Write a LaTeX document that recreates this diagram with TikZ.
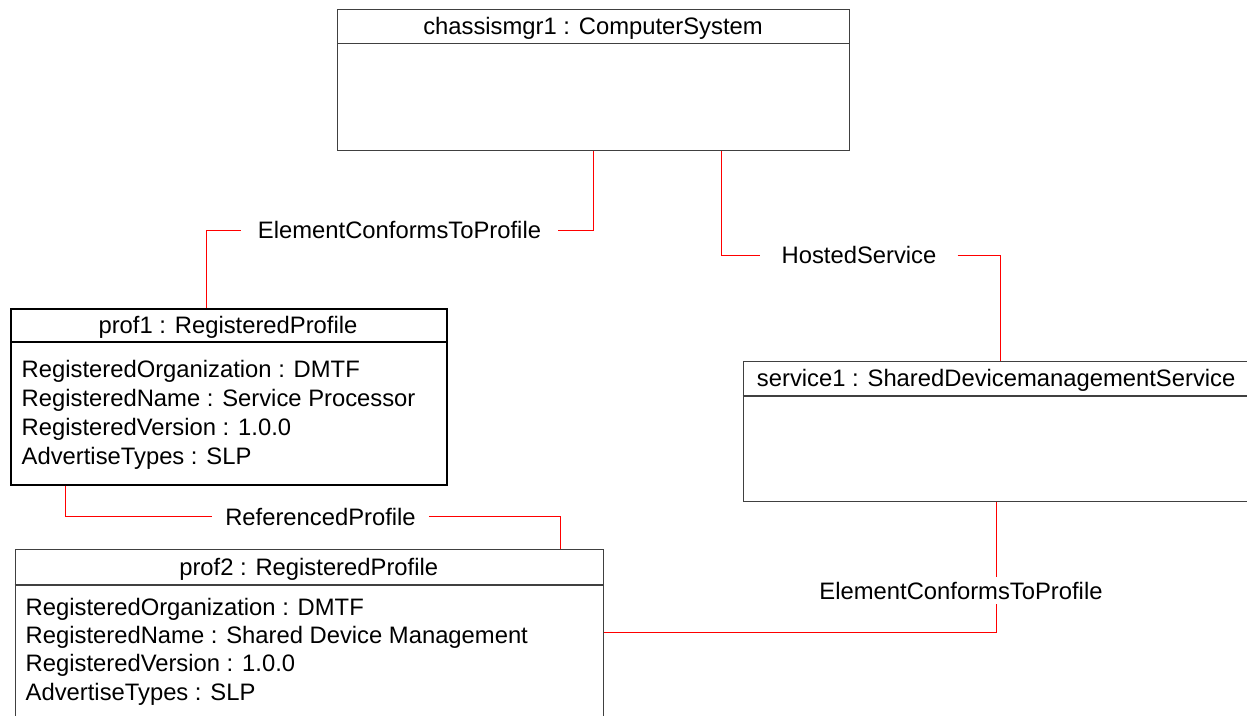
\documentclass[tikz,border=0pt]{standalone}
\usepackage{fontspec}
\setmainfont{Liberation Sans}
\begin{document}
\begin{tikzpicture}[x=1pt,y=-1pt,
  box/.style={draw=#1, line width=1.3pt, inner sep=0pt, anchor=north west},
  box/.default={black!75},
  txt/.style={font=\fontsize{23.8}{29}\selectfont, inner sep=0pt},
  conn/.style={draw=red, line width=1pt},
  clbl/.style={txt, inner xsep=17pt, inner ysep=0pt, text height=16.7pt, text depth=0pt},
  hline/.style={draw=#1, line width=1.3pt},
  hline/.default={black!75}]
\useasboundingbox (0,0) rectangle (1247,715);
% boxes
\node[box, minimum width=512pt, minimum height=141pt] (cs) at (337,9) {};
\node[box=black, line width=2pt, minimum width=436pt, minimum height=176pt] (p1) at (10,307.5) {};
\node[box, minimum width=588pt, minimum height=180pt] (p2) at (14.6,549) {};
\node[box, minimum width=508pt, minimum height=140pt] (sv) at (742.5,361) {};
% header separators
\draw[hline] (cs.west |- 0,43.5) -- (cs.east |- 0,43.5);
\draw[hline=black, line width=2pt] (p1.west |- 0,342) -- (p1.east |- 0,342);
\draw[hline] (p2.west |- 0,585) -- (p2.east |- 0,585);
\draw[hline] (sv.west |- 0,396) -- (sv.east |- 0,396);
% headers
\node[txt, anchor=base] (csh) at (593,34.5) {chassismgr1 : ComputerSystem};
\node[txt, anchor=base] (p1h) at (228,333.5) {prof1 : RegisteredProfile};
\node[txt, anchor=base] (p2h) at (308.7,575) {prof2 : RegisteredProfile};
\node[txt, anchor=base] (svh) at (996.2,386.5) {service1 : SharedDevicemanagementService};
% attributes
\node[txt, anchor=base west] (p1a) at (21.5,377.5) {RegisteredOrganization : DMTF};
\node[txt, anchor=base west] (p1b) at (21.5,406.5) {RegisteredName : Service Processor};
\node[txt, anchor=base west] (p1c) at (21.5,435.5) {RegisteredVersion : 1.0.0};
\node[txt, anchor=base west] (p1d) at (21.5,464.5) {AdvertiseTypes : SLP};
\node[txt, anchor=base west] (p2a) at (25.5,615.5) {RegisteredOrganization : DMTF};
\node[txt, anchor=base west] (p2b) at (25.5,643.5) {RegisteredName : Shared Device Management};
\node[txt, anchor=base west] (p2c) at (25.5,671.5) {RegisteredVersion : 1.0.0};
\node[txt, anchor=base west] (p2d) at (25.5,700.5) {AdvertiseTypes : SLP};
% connector labels
\node[clbl, anchor=base] (ecp1) at (399.5,238.5) {ElementConformsToProfile};
\node[clbl, anchor=base, inner xsep=21pt] (hs) at (859,263.5) {HostedService};
\node[clbl, anchor=base, inner xsep=13pt] (rp) at (320.5,525) {ReferencedProfile};
\node[clbl, anchor=base, inner ysep=5pt] (ecp2) at (961,599) {ElementConformsToProfile};
% connectors
\draw[conn] (cs.south -| 593.5,0) |- (ecp1.east);
\draw[conn] (ecp1.west) -| (p1.north -| 206.5,0);
\draw[conn] (cs.south -| 721.5,0) |- (hs.west);
\draw[conn] (hs.east) -| (sv.north -| 1000.5,0);
\draw[conn] (p1.south -| 65.5,0) |- (rp.west);
\draw[conn] (rp.east) -| (p2.north -| 560.5,0);
\draw[conn] (sv.south -| 996.5,0) -- (ecp2.north -| 996.5,0);
\draw[conn] (ecp2.south -| 996.5,0) |- (p2.east |- 0,632.5);
\end{tikzpicture}
\end{document}
